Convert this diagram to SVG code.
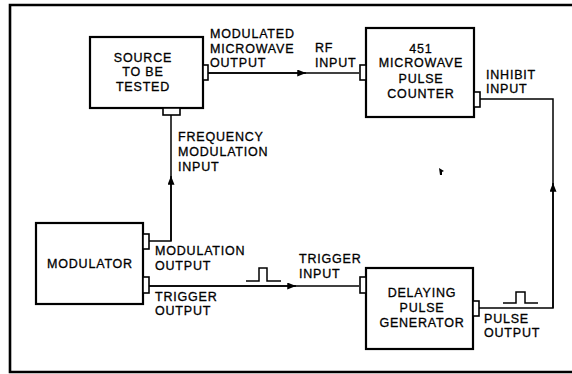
<svg xmlns="http://www.w3.org/2000/svg" width="572" height="374" viewBox="0 0 572 374">
<defs>
<style>
.box{fill:#fff;stroke:#000;stroke-width:2.2}
.port{fill:#fff;stroke:#000;stroke-width:1.6}
.ln{fill:none;stroke:#000;stroke-width:1.5}
.frame{fill:none;stroke:#000;stroke-width:2.6}
text{font-family:"Liberation Sans",Arial,sans-serif;font-size:12.5px;letter-spacing:0.8px;fill:#000;stroke:#000;stroke-width:0.3}
.c{text-anchor:middle}
</style>
<marker id="ah" viewBox="0 0 10 8" refX="10" refY="4" markerWidth="9" markerHeight="7" markerUnits="userSpaceOnUse" orient="auto">
<path d="M0,0 L10,4 L0,8 Z" fill="#000"/>
</marker>
</defs>
<rect width="572" height="374" fill="#fff"/>
<path class="frame" d="M572,5 L10,5 L10,372 L572,372"/>

<g id="connectors">
<path class="ln" d="M207,73 L359,73"/>
<path class="ln" d="M207,73 L306,73" marker-end="url(#ah)"/>
<path class="ln" d="M149,241 L171,241 L171,115"/>
<path class="ln" d="M171,241 L171,176" marker-end="url(#ah)"/>
<path class="ln" d="M149,286 L359,286"/>
<path class="ln" d="M149,286 L296,286" marker-end="url(#ah)"/>
<path class="ln" d="M479,308 L553,308 L553,99 L480,99"/>
<path class="ln" d="M553,308 L553,183" marker-end="url(#ah)"/>
<path class="ln" d="M246,281 L259,281 L259,268 L267,268 L267,281 L281,281"/>
<path class="ln" d="M503,303 L516,303 L516,292 L525,292 L525,303 L538,303"/>
<path d="M439,168 L444,171 L442,172 L442,175 L440,175 Z" fill="#000"/>
</g>

<g id="source">
<rect class="box" x="90" y="37" width="113" height="71"/>
<rect class="port" x="203" y="65" width="5" height="15"/>
<rect class="port" x="163" y="108" width="17" height="7"/>
<text class="c" x="143" y="62">SOURCE</text>
<text class="c" x="143" y="76">TO BE</text>
<text class="c" x="143" y="91">TESTED</text>
</g>

<g id="source-labels">
<text x="210" y="38">MODULATED</text>
<text x="210" y="53">MICROWAVE</text>
<text x="210" y="67">OUTPUT</text>
<text x="178" y="141">FREQUENCY</text>
<text x="178" y="156">MODULATION</text>
<text x="178" y="171">INPUT</text>
</g>

<g id="counter">
<rect class="box" x="366" y="28" width="108" height="89"/>
<rect class="port" x="360" y="65" width="6" height="15"/>
<rect class="port" x="474" y="92" width="6" height="15"/>
<text class="c" x="421" y="53">451</text>
<text class="c" x="421" y="67">MICROWAVE</text>
<text class="c" x="421" y="83">PULSE</text>
<text class="c" x="421" y="98">COUNTER</text>
</g>

<g id="counter-labels">
<text x="315" y="52">RF</text>
<text x="315" y="67">INPUT</text>
<text x="486" y="79">INHIBIT</text>
<text x="486" y="93">INPUT</text>
</g>

<g id="modulator">
<rect class="box" x="36" y="223" width="107" height="81"/>
<rect class="port" x="143" y="234" width="6" height="15"/>
<rect class="port" x="143" y="277" width="6" height="16"/>
<text class="c" x="90" y="268">MODULATOR</text>
</g>

<g id="modulator-labels">
<text x="155" y="255">MODULATION</text>
<text x="155" y="270">OUTPUT</text>
<text x="155" y="301">TRIGGER</text>
<text x="155" y="315">OUTPUT</text>
</g>

<g id="delaying">
<rect class="box" x="366" y="268" width="107" height="81"/>
<rect class="port" x="360" y="277" width="6" height="16"/>
<rect class="port" x="473" y="301" width="6" height="15"/>
<text class="c" x="422" y="297">DELAYING</text>
<text class="c" x="422" y="312">PULSE</text>
<text class="c" x="422" y="327">GENERATOR</text>
</g>

<g id="delaying-labels">
<text x="299" y="263">TRIGGER</text>
<text x="299" y="278">INPUT</text>
<text x="484" y="323">PULSE</text>
<text x="484" y="337">OUTPUT</text>
</g>
</svg>
